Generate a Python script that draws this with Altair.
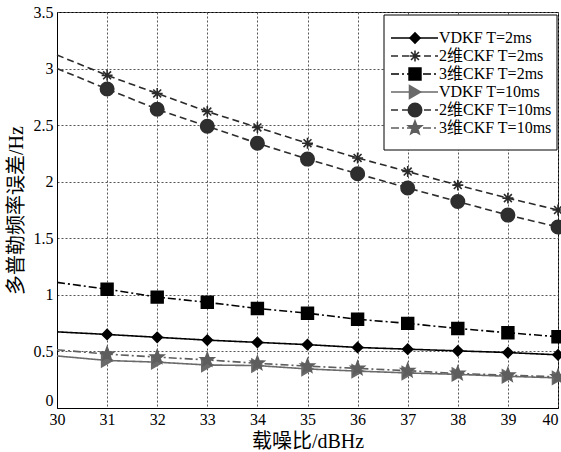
import math
import altair as alt
import pandas as pd

# ---------------- data ----------------
snr = list(range(30, 41))
series_names = ["VDKF T=2ms", "2维CKF T=2ms", "3维CKF T=2ms",
                "VDKF T=10ms", "2维CKF T=10ms", "3维CKF T=10ms"]
vdkf_2ms = [0.673, 0.65, 0.625, 0.60, 0.58, 0.56, 0.535, 0.52, 0.505, 0.49, 0.47]
ckf2_2ms = [3.12, 2.94, 2.78, 2.62, 2.48, 2.34, 2.21, 2.09, 1.97, 1.855, 1.75]
ckf3_2ms = [1.11, 1.05, 0.98, 0.934, 0.88, 0.838, 0.784, 0.748, 0.703, 0.665, 0.63]
vdkf_10ms = [0.46, 0.42, 0.405, 0.38, 0.375, 0.345, 0.326, 0.31, 0.297, 0.28, 0.266]
ckf2_10ms = [3.0, 2.82, 2.64, 2.49, 2.34, 2.20, 2.07, 1.945, 1.825, 1.705, 1.60]
ckf3_10ms = [0.515, 0.476, 0.45, 0.425, 0.395, 0.37, 0.35, 0.33, 0.305, 0.29, 0.275]
y_ticks = [0, 0.5, 1, 1.5, 2, 2.5, 3, 3.5]

all_series = [vdkf_2ms, ckf2_2ms, ckf3_2ms, vdkf_10ms, ckf2_10ms, ckf3_10ms]
rows = []
for name, vals in zip(series_names, all_series):
    for x, v in zip(snr, vals):
        rows.append({"series": name, "snr": x, "err": v})
df = pd.DataFrame(rows)
legend_df = pd.DataFrame({"series": series_names})

# ---------------- styles ----------------
def star_path():
    pts = []
    for i in range(10):
        r = 1.0 if i % 2 == 0 else 0.42
        a = -math.pi / 2 + i * math.pi / 5
        pts.append((r * math.cos(a), r * math.sin(a)))
    return "M" + "L".join(f"{x:.3f},{y:.3f}" for x, y in pts) + "Z"

asterisk = "M0,-1L0,1M-1,0L1,0M-0.72,-0.72L0.72,0.72M-0.72,0.72L0.72,-0.72"
shapes = ["diamond", asterisk, "square", "triangle-right", "circle", star_path()]
line_colors = ["#000000", "#2a2a2a", "#000000", "#6a6a6a", "#2e2e2e", "#5e5e5e"]
fills = ["#000000", "transparent", "#000000", "#6a6a6a", "#2e2e2e", "#5e5e5e"]
dashes = [[1, 0], [7, 4], [8, 3, 2, 3], [1, 0], [7, 4], [8, 3, 2, 3]]
sizes = [100, 200, 110, 140, 110, 240]

FONT = "'Liberation Serif', 'Noto Sans CJK SC', serif"

color_scale = alt.Scale(domain=series_names, range=line_colors)
dash_scale = alt.Scale(domain=series_names, range=dashes)
shape_scale = alt.Scale(domain=series_names, range=shapes)
fill_scale = alt.Scale(domain=series_names, range=fills)
size_scale = alt.Scale(domain=series_names, range=sizes)

x_enc = alt.X("snr:Q", scale=alt.Scale(domain=[30, 40], nice=False),
              axis=alt.Axis(values=snr, title="载噪比/dBHz", grid=True,
                            gridDash=[2, 2], gridColor="#555", gridWidth=1,
                            ticks=False, labelPadding=3, titlePadding=4,
                            labelFlush=False,
                            labelAlign=alt.ExprRef("datum.value == 40 ? 'right' : 'center'")))
y_enc = alt.Y("err:Q", scale=alt.Scale(domain=[0, 3.5], nice=False),
              axis=alt.Axis(values=y_ticks, format="~g", title="多普勒频率误差/Hz",
                            grid=True, gridDash=[2, 2], gridColor="#555", gridWidth=1,
                            ticks=False, labelPadding=4, titlePadding=7,
                            labelFlush=False,
                            labelBaseline=alt.ExprRef("datum.value == 0 ? 'bottom' : 'middle'")))

lines = alt.Chart(df).mark_line(strokeWidth=1.6).encode(
    x=x_enc, y=y_enc,
    color=alt.Color("series:N", scale=color_scale, legend=None),
    strokeDash=alt.StrokeDash("series:N", scale=dash_scale, legend=None),
)

points = alt.Chart(df).transform_filter("datum.snr >= 31").mark_point(
    filled=True, strokeWidth=1.6, opacity=1
).encode(
    x=x_enc, y=y_enc,
    shape=alt.Shape("series:N", scale=shape_scale, legend=None),
    fill=alt.Fill("series:N", scale=fill_scale, legend=None),
    stroke=alt.Stroke("series:N", scale=color_scale, legend=None),
    size=alt.Size("series:N", scale=size_scale, legend=None),
)

main = alt.layer(lines, points)

# ---------------- legend ----------------
ly = alt.Y("series:N", scale=alt.Scale(domain=series_names, range=[17, 125], padding=0), axis=None)

box = alt.Chart(legend_df).mark_rect(fill="white", stroke="#000", strokeWidth=1).encode(
    x=alt.value(327), x2=alt.value(500), y=alt.value(3), y2=alt.value(138)
).transform_filter("datum.series == '" + series_names[0] + "'")

leg_rule = alt.Chart(legend_df).mark_rule(strokeWidth=1.6).encode(
    x=alt.value(334), x2=alt.value(381), y=ly,
    color=alt.Color("series:N", scale=color_scale, legend=None),
    strokeDash=alt.StrokeDash("series:N", scale=dash_scale, legend=None),
)
leg_pts = alt.Chart(legend_df).mark_point(filled=True, strokeWidth=1.6, opacity=1).encode(
    x=alt.value(358), y=ly,
    shape=alt.Shape("series:N", scale=shape_scale, legend=None),
    fill=alt.Fill("series:N", scale=fill_scale, legend=None),
    stroke=alt.Stroke("series:N", scale=color_scale, legend=None),
    size=alt.Size("series:N", scale=size_scale, legend=None),
)
leg_txt = alt.Chart(legend_df).mark_text(
    align="left", baseline="middle", font=FONT, fontSize=16, color="#000"
).encode(x=alt.value(382), y=ly, text="series:N")

legend = alt.layer(box, leg_rule, leg_pts, leg_txt)

chart = alt.layer(main, legend).resolve_scale(y="independent").properties(
    width=501, height=396,
    padding={"left": 57, "top": 12, "right": 3, "bottom": 44},
    autosize=alt.AutoSizeParams(type="none"),
    background="white",
).configure_view(stroke="#000", strokeWidth=1).configure_axis(
    labelFont=FONT, labelFontSize=16, labelColor="#000",
    titleFont=FONT, titleFontSize=20, titleFontWeight="normal", titleColor="#000",
    domainColor="#000",
)

chart.save("out.html", embed_options={"renderer": "svg", "actions": False})
